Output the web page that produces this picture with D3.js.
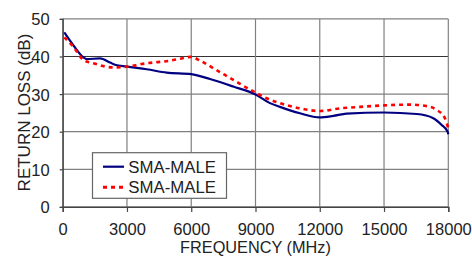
<!DOCTYPE html>
<html><head><meta charset="utf-8">
<script src="https://cdn.jsdelivr.net/npm/d3@7"></script>
<style>
html,body{margin:0;padding:0;background:#fff;}
svg{display:block;font-family:"Liberation Sans",Arial,sans-serif;}
</style></head><body>
<svg id="c" width="472" height="256"></svg>
<script>
const xTicks = [0, 3000, 6000, 9000, 12000, 15000, 18000];
const yTicks = [0, 10, 20, 30, 40, 50];
const seriesNames = ["SMA-MALE", "SMA-MALE"];
const blueFreq = [75, 495, 960, 1120, 1740, 2210, 2440, 2990, 3920, 4855, 6000, 6875, 7960, 9000, 9675, 10140, 11075, 12000, 12630, 13250, 15000, 16525, 17300, 17690, 17970, 18000];
const blueRL   = [46.4, 43, 39.8, 39.3, 39.5, 38.4, 37.8, 37.3, 36.6, 35.7, 35.3, 34, 32, 29.9, 27.6, 26.6, 24.9, 23.8, 24.2, 24.8, 25.1, 24.7, 23.6, 21.8, 20, 19.3];
const redFreq  = [75, 495, 960, 1430, 2360, 2990, 3920, 5010, 5475, 6000, 6410, 7030, 7960, 9000, 9520, 10140, 11075, 12000, 12940, 13875, 15000, 16210, 16990, 17455, 17840, 18000];
const redRL    = [45.1, 42.6, 39.1, 38.2, 37.1, 37.3, 38.2, 38.9, 39.4, 39.9, 38.9, 36.9, 33.8, 30.4, 28.9, 27.6, 26.2, 25.5, 26.2, 26.6, 27, 27.2, 26.8, 25.8, 23.6, 20.9];

const svg = d3.select("#c");
const L = 62.7, R = 448.3, T = 18.9, B = 206.9;
const x = d3.scaleLinear().domain([0, 18000]).range([L, R]);
const y = d3.scaleLinear().domain([0, 50]).range([B, T]);
const gridCol = "#808080", textCol = "#222";

// grid
svg.append("g").selectAll("line").data(yTicks).join("line")
  .attr("x1", L).attr("x2", R).attr("y1", d => y(d)).attr("y2", d => y(d))
  .attr("stroke", d => d === 40 ? "#333" : gridCol).attr("stroke-width", 1.2);
svg.append("g").selectAll("line").data(xTicks).join("line")
  .attr("y1", T).attr("y2", B).attr("x1", d => x(d)).attr("x2", d => x(d))
  .attr("stroke", gridCol).attr("stroke-width", 1.2);

// axes
const xa = svg.append("g").attr("transform", `translate(0,${B})`)
  .call(d3.axisBottom(x).tickValues(xTicks).tickSize(5).tickPadding(11.5).tickFormat(d3.format("d")));
const ya = svg.append("g").attr("transform", `translate(${L},0)`)
  .call(d3.axisLeft(y).tickValues(yTicks).tickSize(3).tickPadding(10).tickFormat(d3.format("d")));
[xa, ya].forEach(g => {
  g.select(".domain").attr("stroke", "#444").attr("stroke-width", 1.3);
  g.selectAll(".tick line").attr("stroke", "#444").attr("stroke-width", 1.2);
  g.selectAll(".tick text").attr("fill", textCol).attr("font-size", 16.5)
    .attr("font-family", '"Liberation Sans",Arial,sans-serif');
});
ya.selectAll(".tick text").attr("dy", "0.36em");

// lines
const line = d3.line().x(d => x(d[0])).y(d => y(d[1])).curve(d3.curveMonotoneX);
const blue = blueFreq.map((f, i) => [f, blueRL[i]]);
const red = redFreq.map((f, i) => [f, redRL[i]]);
svg.append("path").datum(blue).attr("d", line).attr("fill", "none")
  .attr("stroke", "#000080").attr("stroke-width", 2.2);
svg.append("path").datum(red).attr("d", line).attr("fill", "none")
  .attr("stroke", "#ff0000").attr("stroke-width", 2.6).attr("stroke-dasharray", "4,4");

// titles
svg.append("text").attr("x", 255.5).attr("y", 252.6).attr("text-anchor", "middle")
  .attr("font-size", 16.3).attr("fill", textCol).text("FREQUENCY (MHz)");
svg.append("text").attr("transform", "translate(29.5,112.5) rotate(-90)").attr("text-anchor", "middle")
  .attr("font-size", 17).attr("fill", textCol).text("RETURN LOSS (dB)");

// legend
const lg = svg.append("g");
lg.append("rect").attr("x", 92.5).attr("y", 152.7).attr("width", 134).attr("height", 45.6)
  .attr("fill", "#fff").attr("stroke", "#666").attr("stroke-width", 1.2);
const rows = [{c: "#000080", dash: null, w: 2.2, yy: 166.7}, {c: "#ff0000", dash: "4,4", w: 3, yy: 187.3}];
rows.forEach((r, i) => {
  lg.append("line").attr("x1", 103).attr("x2", 124).attr("y1", r.yy).attr("y2", r.yy)
    .attr("stroke", r.c).attr("stroke-width", r.w).attr("stroke-dasharray", r.dash);
  lg.append("text").attr("x", 128.3).attr("y", r.yy).attr("dy", "0.36em")
    .attr("font-size", 16.8).attr("fill", textCol).text(seriesNames[i]);
});
</script></body></html>
